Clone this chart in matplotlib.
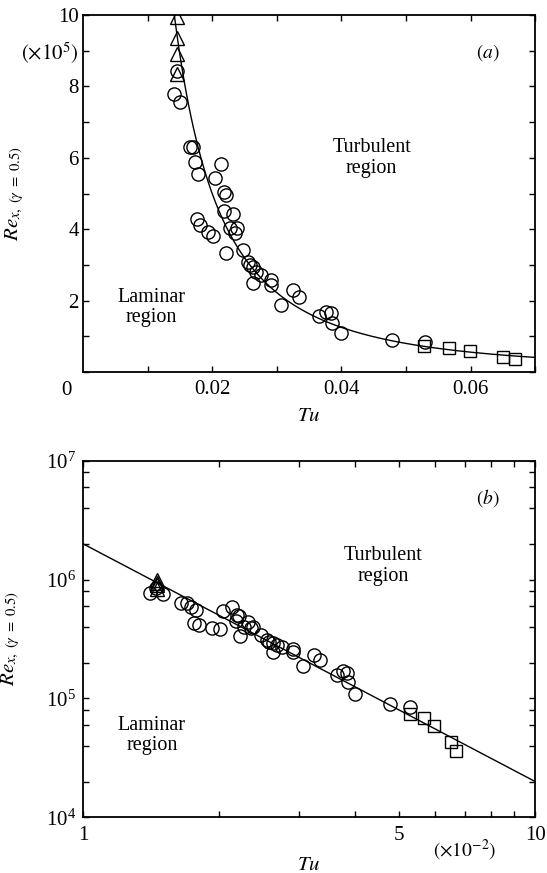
import numpy as np
import matplotlib
matplotlib.use('Agg')
import matplotlib.pyplot as plt
from matplotlib.ticker import FixedLocator, NullFormatter, LogLocator

plt.rcParams['font.family'] = ['Liberation Serif', 'DejaVu Serif']
plt.rcParams['mathtext.fontset'] = 'stix'

# Tu (fraction) and Re_x at gamma = 0.5 (units of 1e5)
tu_circle = [0.0145, 0.0141, 0.0150, 0.0165, 0.0170, 0.0173, 0.0178, 0.0214, 0.0204, 0.0219,
             0.0221, 0.0218, 0.0232, 0.0176, 0.0181, 0.0193, 0.0201, 0.0227, 0.0238, 0.0235,
             0.0222, 0.0248, 0.0255, 0.0258, 0.0263, 0.0268, 0.0263, 0.0276, 0.0291, 0.0291,
             0.0306, 0.0325, 0.0334, 0.0365, 0.0376, 0.0384, 0.0386, 0.0399, 0.0478, 0.0529]
re_circle = [8.44, 7.78, 7.55, 6.31, 6.31, 5.89, 5.56, 5.83, 5.43, 5.05,
             4.96, 4.50, 4.42, 4.29, 4.12, 3.93, 3.81, 4.02, 4.02, 3.88,
             3.32, 3.42, 3.09, 3.00, 2.95, 2.81, 2.48, 2.72, 2.58, 2.44,
             1.88, 2.30, 2.11, 1.57, 1.69, 1.64, 1.38, 1.08, 0.90, 0.85]

tu_triangle = [0.0146, 0.0146, 0.0146, 0.0146]
re_triangle = [9.95, 9.35, 8.92, 8.35]

tu_square = [0.0528, 0.0567, 0.0599, 0.0651, 0.0669]
re_square = [0.74, 0.68, 0.59, 0.43, 0.36]

# correlation Re = C * Tu^N
fit_c = 200.0
fit_n = -2.0

ylabel = r'$Re_{x,\ (\gamma\ =\ 0.5)}$'

fig = plt.figure(figsize=(5.47, 8.73), dpi=100)
ax1 = fig.add_axes([0.1517, 0.5739, 0.8266, 0.4089])
ax2 = fig.add_axes([0.1517, 0.0638, 0.8266, 0.4085])

mk = dict(linestyle='none', markerfacecolor='none', markeredgecolor='k', markeredgewidth=1.0)

# ---- (a) linear axes
tu_fit = np.linspace(np.sqrt(fit_c / 1e6), 0.07, 300)
ax1.plot(tu_fit, fit_c * tu_fit ** fit_n / 1e5, color='k', lw=1.0)
ax1.plot(tu_circle, re_circle, marker='o', markersize=9.5, **mk)
ax1.plot(tu_triangle, re_triangle, marker='^', markersize=10, **mk)
ax1.plot(tu_square, re_square, marker='s', markersize=8.5, **mk)

ax1.set_xlim(0, 0.07)
ax1.set_ylim(0, 10)
ax1.xaxis.set_major_locator(FixedLocator([0.02, 0.04, 0.06]))
ax1.xaxis.set_minor_locator(FixedLocator([0.01, 0.03, 0.05, 0.07]))
ax1.set_xticklabels(['0.02', '0.04', '0.06'])
ax1.set_yticks(np.arange(0, 11, 1))
ax1.set_yticklabels(['', '', '2', '', '4', '', '6', '', '8', r'$(\times 10^5)$', '10'])
ax1.text(-0.037, -0.052, '0', transform=ax1.transAxes, ha='center', va='center', fontsize=15)
ax1.set_xlabel(r'$Tu$', fontsize=15)
ax1.xaxis.set_label_coords(0.5, -0.126)
ax1.xaxis.label.set_va('center')
ax1.set_ylabel(ylabel, fontsize=15)
ax1.yaxis.set_label_coords(-0.125, 0.5)
ax1.text(0.0447, 6.0, 'Turbulent\nregion', ha='center', va='center', fontsize=14.5, linespacing=1.1)
ax1.text(0.0106, 1.8, 'Laminar\nregion', ha='center', va='center', fontsize=14.5, linespacing=1.1)
ax1.text(0.895, 0.895, r'$(a)$', transform=ax1.transAxes, ha='center', va='center', fontsize=14)

# ---- (b) log-log axes, Tu in units of 1e-2
tu_fit_b = np.linspace(1, 10, 300)
ax2.plot(tu_fit_b, fit_c * (tu_fit_b / 100) ** fit_n, color='k', lw=1.0)
ax2.plot(np.array(tu_circle) * 100, np.array(re_circle) * 1e5, marker='o', markersize=9.5, **mk)
ax2.plot(np.array(tu_triangle) * 100, np.array(re_triangle) * 1e5, marker='^', markersize=10, **mk)
ax2.plot(np.array(tu_square) * 100, np.array(re_square) * 1e5, marker='s', markersize=8.5, **mk)

ax2.set_xscale('log')
ax2.set_yscale('log')
ax2.set_xlim(1, 10)
ax2.set_ylim(1e4, 1e7)
ax2.xaxis.set_major_locator(FixedLocator([1, 5, 10]))
ax2.set_xticklabels(['1', '5', '10'])
ax2.xaxis.set_minor_locator(FixedLocator([2, 3, 4, 6, 7, 8, 9]))
ax2.xaxis.set_minor_formatter(NullFormatter())
ax2.yaxis.set_major_locator(LogLocator(base=10, numticks=10))
ax2.yaxis.set_minor_locator(LogLocator(base=10, subs=[2, 4, 6, 8], numticks=10))
ax2.yaxis.set_minor_formatter(NullFormatter())
ax2.set_xlabel(r'$Tu$', fontsize=15)
ax2.xaxis.set_label_coords(0.5, -0.134)
ax2.xaxis.label.set_va('center')
ax2.set_ylabel(ylabel, fontsize=15)
ax2.yaxis.set_label_coords(-0.135, 0.5)
ax2.text(0.845, -0.092, r'$(\times 10^{-2})$', transform=ax2.transAxes, ha='center', va='center', fontsize=14)
ax2.text(4.61, 1.3e6, 'Turbulent\nregion', ha='center', va='center', fontsize=14.5, linespacing=1.1)
ax2.text(1.42, 4.9e4, 'Laminar\nregion', ha='center', va='center', fontsize=14.5, linespacing=1.1)
ax2.text(0.895, 0.895, r'$(b)$', transform=ax2.transAxes, ha='center', va='center', fontsize=14)

for ax in (ax1, ax2):
    for s in ax.spines.values():
        s.set_linewidth(1.3)
    ax.tick_params(which='both', direction='in', top=True, right=True, length=4.5, width=1.0,
                   labelsize=15)
    ax.tick_params(axis='x', which='both', pad=6)
ax1.tick_params(axis='y', which='both', pad=3)
ax2.tick_params(axis='y', which='both', pad=5)

fig.savefig('out.png', dpi=100)
